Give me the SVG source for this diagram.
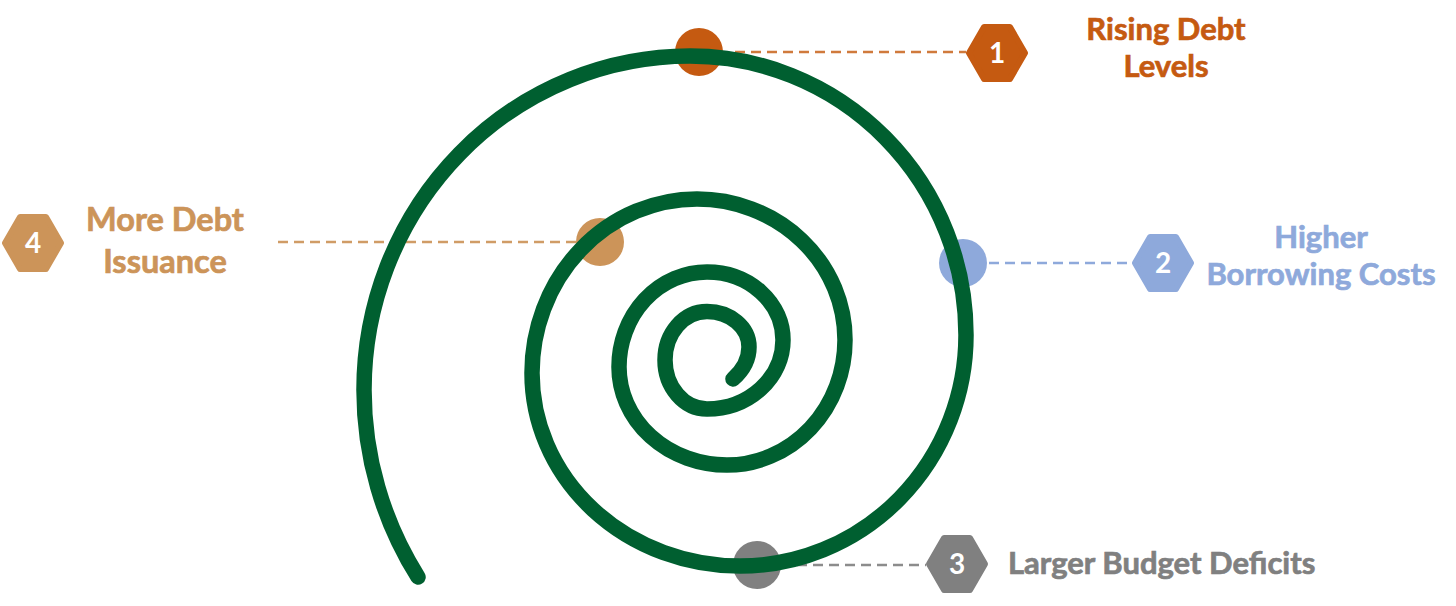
<svg xmlns="http://www.w3.org/2000/svg" width="1456" height="606" viewBox="0 0 1456 606">
<style>
.lbl{font-family:Lato,"Source Sans Pro","Liberation Sans",sans-serif;font-weight:700;font-size:31px;stroke-width:0.7}
.big{font-size:32.5px}
.num{font-family:Lato,"Liberation Sans",sans-serif;font-weight:700;font-size:28px;fill:#fff;text-anchor:middle}
.dash{stroke-width:2.5;stroke-dasharray:10 6;fill:none}
.hex{stroke-width:6;stroke-linejoin:round}
</style>
<defs>
<path id="hx" d="M-28,0 L-13,-26 L13,-26 L28,0 L13,26 L-13,26 Z"/>
</defs>
<rect width="1456" height="606" fill="#fff"/>
<g id="connectors">
<line class="dash" x1="735" y1="52" x2="966" y2="52" stroke="#D07A3C"/>
<line class="dash" x1="989" y1="263" x2="1132" y2="263" stroke="#8EA9DB"/>
<line class="dash" x1="781" y1="565" x2="926" y2="565" stroke="#8C8C8C"/>
<line class="dash" x1="278" y1="242" x2="578" y2="242" stroke="#D09C66"/>
</g>
<g id="dots">
<circle cx="699" cy="52" r="24" fill="#C55A11"/>
<circle cx="963" cy="263" r="24" fill="#8EA9DB"/>
<circle cx="757" cy="565" r="24" fill="#808080"/>
<circle cx="600" cy="242" r="24" fill="#CC9459"/>
</g>
<g id="spiral">
<path d="M733,379 C741,372 749,361 749,347 A42,35.5 0 0 0 707,311.5 A42,48.5 0 0 0 665,360 A42,49 0 0 0 707,409 A76,69 0 0 0 783,340 A76,68 0 0 0 707,272 A88,95 0 0 0 619,367 A108,98 0 0 0 727,465 A118,125 0 0 0 845,340 A148,141 0 0 0 697,199 A165,174 0 0 0 532,373 A208,193 0 0 0 740,566 A226,231 0 0 0 966,335 A276,279 0 0 0 690,56 A326,334 0 0 0 364,390 A360,355 0 0 0 418,577" fill="none" stroke="#005F30" stroke-width="15.5" stroke-linecap="round" stroke-linejoin="round"/>
</g>
<g id="node1">
<use href="#hx" x="997" y="53" class="hex" fill="#C55A11" stroke="#C55A11"/>
<text class="num" x="997" y="63">1</text>
<text class="lbl" fill="#C55A11" stroke="#C55A11" text-anchor="middle"><tspan x="1166" y="40">Rising Debt</tspan><tspan x="1166" y="77">Levels</tspan></text>
</g>
<g id="node2">
<use href="#hx" x="1163" y="263" class="hex" fill="#8EA9DB" stroke="#8EA9DB"/>
<text class="num" x="1163" y="273">2</text>
<text class="lbl" fill="#8EA9DB" stroke="#8EA9DB" text-anchor="middle"><tspan x="1321" y="248">Higher</tspan><tspan x="1321" y="285">Borrowing Costs</tspan></text>
</g>
<g id="node3">
<use href="#hx" x="957" y="564" class="hex" fill="#808080" stroke="#808080"/>
<text class="num" x="957" y="574">3</text>
<text class="lbl" fill="#808080" stroke="#808080" x="1008" y="574">Larger Budget Deficits</text>
</g>
<g id="node4">
<use href="#hx" x="33" y="243" class="hex" fill="#CC9459" stroke="#CC9459"/>
<text class="num" x="33" y="253">4</text>
<text class="lbl big" fill="#CC9459" stroke="#CC9459" text-anchor="middle"><tspan x="165" y="231">More Debt</tspan><tspan x="165" y="273">Issuance</tspan></text>
</g>
</svg>
